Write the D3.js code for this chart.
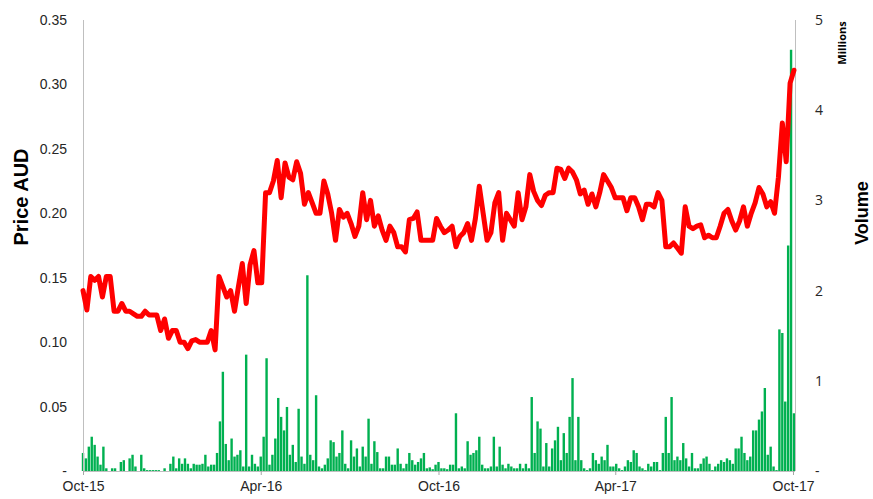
<!DOCTYPE html>
<meta charset="utf-8">
<style>
body { margin: 0; background: #fff; }
.axis text { font-family: "Liberation Sans", Arial, sans-serif; font-size: 14px; fill: #262626; }
.axis.vol text { font-family: "Open Sans", "Noto Sans", sans-serif; font-size: 14px; }
.axis line { stroke: #a6a6a6; }
.axis path { display: none; }
.frame { stroke: #bfbfbf; stroke-width: 1; shape-rendering: crispEdges; }
.bar { fill: #00b050; }
.price { fill: none; stroke: #ff0000; stroke-width: 5; stroke-linejoin: round; stroke-linecap: round; }
.label { font-family: "Liberation Sans", Arial, sans-serif; font-weight: bold; fill: #000; }
</style>
<body>
<div id="chart"></div>
<script src="https://d3js.org/d3.v7.min.js"></script>
<script>
// price every 4 calendar days from 1 Oct 2015 (AUD)
var priceStart = "2015-10-01";
var priceStepDays = 4;
var priceValues = [
  0.140,0.125,0.151,0.148,0.151,0.135,0.151,0.151,0.124,0.124,
  0.130,0.124,0.124,0.122,0.120,0.120,0.124,0.121,0.121,0.121,
  0.109,0.118,0.103,0.109,0.109,0.100,0.100,0.095,0.101,0.102,
  0.100,0.100,0.100,0.109,0.094,0.151,0.143,0.135,0.140,0.124,
  0.143,0.161,0.130,0.160,0.171,0.146,0.146,0.216,0.216,0.225,
  0.241,0.212,0.239,0.228,0.226,0.240,0.231,0.207,0.216,0.208,
  0.200,0.200,0.225,0.215,0.200,0.179,0.203,0.197,0.200,0.192,
  0.182,0.190,0.216,0.195,0.210,0.190,0.198,0.187,0.179,0.190,
  0.185,0.174,0.174,0.170,0.195,0.196,0.201,0.179,0.179,0.179,
  0.179,0.196,0.190,0.185,0.187,0.190,0.174,0.182,0.185,0.192,
  0.179,0.196,0.221,0.200,0.179,0.185,0.208,0.216,0.179,0.200,
  0.195,0.190,0.216,0.195,0.205,0.230,0.217,0.210,0.206,0.214,
  0.216,0.216,0.235,0.234,0.227,0.235,0.232,0.226,0.215,0.218,
  0.207,0.215,0.205,0.216,0.230,0.225,0.220,0.212,0.212,0.212,
  0.202,0.212,0.212,0.205,0.195,0.207,0.207,0.205,0.216,0.210,
  0.174,0.174,0.177,0.173,0.169,0.205,0.190,0.188,0.190,0.191,
  0.181,0.183,0.181,0.181,0.190,0.200,0.203,0.194,0.187,0.194,
  0.205,0.190,0.200,0.208,0.220,0.215,0.205,0.209,0.200,0.228,
  0.270,0.240,0.301,0.311
];

// volume (millions) every 3 calendar days from 1 Oct 2015
var volStart = "2015-10-01";
var volStepDays = 3;
var volValues = [
  0.20,0.14,0.27,0.38,0.29,0.16,0.07,0.27,0.03,0.00,
  0.03,0.03,0.00,0.10,0.12,0.00,0.14,0.18,0.05,0.00,
  0.18,0.03,0.01,0.01,0.01,0.01,0.01,0.00,0.03,0.00,
  0.08,0.16,0.03,0.14,0.08,0.14,0.08,0.03,0.08,0.07,
  0.07,0.08,0.18,0.05,0.07,0.07,0.20,0.55,1.10,0.30,
  0.12,0.36,0.16,0.18,0.23,0.05,1.29,0.05,0.18,0.08,
  0.05,0.16,0.38,1.25,0.07,0.18,0.36,0.81,0.60,0.45,
  0.71,0.18,0.29,0.10,0.69,0.16,0.08,2.17,0.18,0.12,
  0.84,0.05,0.03,0.07,0.14,0.34,0.32,0.16,0.20,0.45,
  0.08,0.03,0.34,0.16,0.25,0.05,0.27,0.16,0.58,0.08,
  0.33,0.21,0.03,0.03,0.16,0.16,0.07,0.07,0.25,0.08,
  0.03,0.08,0.20,0.12,0.07,0.10,0.14,0.20,0.03,0.04,
  0.02,0.07,0.10,0.03,0.03,0.02,0.07,0.07,0.64,0.03,
  0.05,0.03,0.33,0.18,0.20,0.23,0.38,0.07,0.03,0.03,
  0.05,0.38,0.05,0.27,0.07,0.03,0.08,0.05,0.03,0.03,
  0.08,0.03,0.08,0.03,0.82,0.20,0.55,0.47,0.05,0.31,
  0.05,0.25,0.34,0.49,0.12,0.42,0.20,0.60,1.03,0.12,
  0.60,0.12,0.03,0.01,0.03,0.20,0.12,0.08,0.16,0.12,
  0.29,0.05,0.05,0.08,0.03,0.01,0.05,0.12,0.10,0.23,
  0.20,0.05,0.03,0.01,0.08,0.05,0.10,0.10,0.01,0.20,
  0.60,0.20,0.82,0.12,0.16,0.12,0.31,0.14,0.05,0.20,
  0.03,0.03,0.08,0.14,0.16,0.08,0.01,0.05,0.08,0.12,
  0.10,0.14,0.12,0.08,0.25,0.25,0.38,0.20,0.12,0.16,
  0.45,0.45,0.57,0.66,0.92,0.18,0.27,0.05,0.01,1.57,
  1.53,0.77,2.50,4.67,0.64
];

var xTickDates = ["2015-10-01", "2016-04-01", "2016-10-01", "2017-04-01", "2017-10-01"];
var priceTicks = [0, 0.05, 0.10, 0.15, 0.20, 0.25, 0.30, 0.35];
var volTicks = [0, 1, 2, 3, 4, 5];

var width = 873, height = 499;
var plot = {left: 83, right: 795, top: 20, bottom: 471};

var parse = d3.utcParse("%Y-%m-%d");

function series(start, step, values) {
  var t0 = parse(start);
  return values.map(function (v, i) {
    return {date: d3.utcDay.offset(t0, i * step), value: v};
  });
}

var priceData = series(priceStart, priceStepDays, priceValues);
var volData = series(volStart, volStepDays, volValues);

var x = d3.scaleUtc()
    .domain([parse("2015-10-01"), parse("2017-10-01")])
    .range([plot.left, plot.right - 2]);

var yPrice = d3.scaleLinear().domain([0, 0.35]).range([plot.bottom, plot.top]);
var yVol = d3.scaleLinear().domain([0, 5]).range([plot.bottom, plot.top]);

var svg = d3.select("#chart").append("svg")
    .attr("width", width)
    .attr("height", height);

// volume bars (behind the line)
svg.append("g").selectAll("rect")
    .data(volData)
    .enter().append("rect")
    .attr("class", "bar")
    .attr("x", function (d) { return x(d.date) - 1.2; })
    .attr("width", 2.4)
    .attr("y", function (d) { return yVol(d.value); })
    .attr("height", function (d) { return plot.bottom - yVol(d.value); });

// frame lines
svg.append("line").attr("class", "frame")
    .attr("x1", plot.left + 0.5).attr("x2", plot.left + 0.5)
    .attr("y1", plot.top).attr("y2", plot.bottom);
svg.append("line").attr("class", "frame")
    .attr("x1", plot.right + 0.5).attr("x2", plot.right + 0.5)
    .attr("y1", plot.top).attr("y2", plot.bottom);
svg.append("line").attr("class", "frame")
    .attr("x1", plot.left).attr("x2", plot.right)
    .attr("y1", plot.bottom + 0.5).attr("y2", plot.bottom + 0.5);

// price line
var line = d3.line()
    .x(function (d) { return x(d.date); })
    .y(function (d) { return yPrice(d.value); });

svg.append("path")
    .datum(priceData)
    .attr("class", "price")
    .attr("d", line);

// axes
svg.append("g")
    .attr("class", "axis")
    .attr("transform", "translate(0," + plot.bottom + ")")
    .call(d3.axisBottom(x)
      .tickValues(xTickDates.map(parse))
      .tickFormat(d3.utcFormat("%b-%y"))
      .tickSize(4)
      .tickPadding(6));

svg.append("g")
    .attr("class", "axis")
    .attr("transform", "translate(" + plot.left + ",0)")
    .call(d3.axisLeft(yPrice)
      .tickValues(priceTicks)
      .tickFormat(function (d) { return d === 0 ? "-" : d3.format(".2f")(d); })
      .tickSize(0)
      .tickPadding(16));

svg.append("g")
    .attr("class", "axis vol")
    .attr("transform", "translate(" + plot.right + ",0)")
    .call(d3.axisRight(yVol)
      .tickValues(volTicks)
      .tickFormat(function (d) { return d === 0 ? "-" : d; })
      .tickSize(0)
      .tickPadding(20));

// axis titles
svg.append("text")
    .attr("class", "label")
    .attr("transform", "translate(28,197) rotate(-90)")
    .attr("text-anchor", "middle")
    .style("font-size", "20px")
    .text("Price AUD");

svg.append("text")
    .attr("class", "label")
    .attr("transform", "translate(868,213) rotate(-90)")
    .attr("text-anchor", "middle")
    .style("font-size", "18px")
    .text("Volume");

svg.append("text")
    .attr("class", "label")
    .attr("transform", "translate(846,43) rotate(-90)")
    .attr("text-anchor", "middle")
    .style("font-size", "11px")
    .style("font-family", "'Open Sans', 'Noto Sans', sans-serif")
    .text("Millions");
</script>
